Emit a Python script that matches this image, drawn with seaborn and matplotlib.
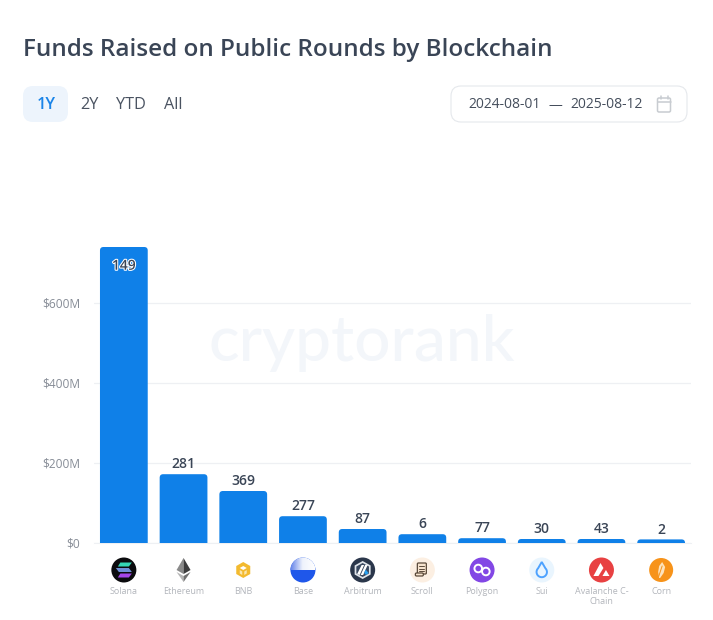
import numpy as np
import pandas as pd
import matplotlib.pyplot as plt
import matplotlib.patheffects as pe
from matplotlib.patches import Circle, FancyBboxPatch, PathPatch, Polygon
from matplotlib.path import Path
import seaborn as sns

sns.set_style("white")
plt.rcParams["font.family"] = ["Open Sans", "DejaVu Sans"]

# data
chains = ["Solana", "Ethereum", "BNB", "Base", "Arbitrum", "Scroll", "Polygon", "Sui", "Avalanche C-\nChain", "Corn"]
funds = [740, 172, 130, 67, 35, 22, 12, 10, 10, 9]
rounds = [149, 281, 369, 277, 87, 6, 77, 30, 43, 2]
y_ticks = [0, 200, 400, 600]
y_labels = ["$0", "$200M", "$400M", "$600M"]
periods = ["2Y", "YTD", "All"]

BLUE = "#0f80e8"
DARK = "#3a4556"

W, H = 713, 620
fig = plt.figure(figsize=(W / 100, H / 100), dpi=100)
ax = fig.add_axes([94 / W, 1 - 543 / H, 597 / W, 303 / H])
ax.patch.set_alpha(0)

df = pd.DataFrame({"chain": chains, "funds": funds})
sns.barplot(data=df, x="chain", y="funds", color=BLUE, saturation=1, width=0.8, ax=ax, zorder=3)
ax.set_xlim(-0.5, 9.5)
ax.set_ylim(0, 757.5)
ax.set_xlabel("")
ax.set_ylabel("")
ax.set_yticks(y_ticks, y_labels)
ax.yaxis.grid(True, color="#eef0f3", lw=0.9)
ax.set_axisbelow(True)
ax.tick_params(axis="y", length=0, pad=10, labelsize=8.6, labelcolor="#868c96")
ax.tick_params(axis="x", length=0, pad=32, labelsize=6.5, labelcolor="#b3b6bc")
for lab in ax.get_xticklabels():
    lab.set_linespacing(1.05)
sns.despine(ax=ax, left=True, right=True, top=True, bottom=False)
ax.spines["bottom"].set_color("#eef0f3")

# round the top corners of the bars
rx, ry = 3.5 / 59.7, 3.5 / 0.4
for p, n in zip(list(ax.patches), rounds):
    x0, w, h = p.get_x(), p.get_width(), p.get_height()
    x1 = x0 + w
    verts = [(x0, 0), (x0, h - ry), (x0, h), (x0 + rx, h), (x1 - rx, h), (x1, h), (x1, h - ry), (x1, 0), (x0, 0)]
    codes = [Path.MOVETO, Path.LINETO, Path.CURVE3, Path.CURVE3, Path.LINETO, Path.CURVE3, Path.CURVE3, Path.LINETO, Path.CLOSEPOLY]
    ax.add_patch(PathPatch(Path(verts, codes), fc=BLUE, ec="none", zorder=3))
    p.set_visible(False)
    cx = x0 + w / 2
    if h > 700:
        ax.annotate(str(n), (cx, h), xytext=(0, -13.5), textcoords="offset points", ha="center", va="center",
                    fontsize=10, fontweight="semibold", color=DARK, zorder=5,
                    path_effects=[pe.withStroke(linewidth=1.5, foreground="white")])
    else:
        ax.annotate(str(n), (cx, h), xytext=(0, 2), textcoords="offset points", ha="center", va="bottom",
                    fontsize=10, fontweight="semibold", color=DARK, zorder=5)

# overlay in pixel coordinates for the page furniture
ui = fig.add_axes([0, 0, 1, 1], zorder=-1)
ui.set_xlim(0, W)
ui.set_ylim(H, 0)
ui.axis("off")
ui.text(362, 343, "cryptorank", ha="center", va="center", fontsize=46, fontweight="medium", color="#f3f6fa", family="Lato")

top = fig.add_axes([0, 0, 1, 1], zorder=5)
top.set_xlim(0, W)
top.set_ylim(H, 0)
top.axis("off")
top.patch.set_alpha(0)

top.text(23, 49.5, "Funds Raised on Public Rounds by Blockchain", fontsize=17.45, fontweight="semibold", color=DARK, va="center")
top.add_patch(FancyBboxPatch((23, 86), 45, 36, boxstyle="round,pad=0,rounding_size=10", fc="#edf4fc", ec="none"))
top.text(46, 105, "1Y", fontsize=11.7, fontweight="semibold", color="#1a84e8", ha="center", va="center")
for label, x in zip(periods, [89.5, 131, 173]):
    top.text(x, 105, label, fontsize=11.7, color="#4a5361", ha="center", va="center")
top.add_patch(FancyBboxPatch((451, 86), 236, 36, boxstyle="round,pad=0,rounding_size=10", fc="white", ec="#e5e8ec", lw=0.8))
top.text(468, 105, "2024-08-01", fontsize=10, color="#454e5c", va="center")
top.text(555, 105, "—", fontsize=10, color="#454e5c", va="center", ha="center")
top.text(570, 105, "2025-08-12", fontsize=10, color="#454e5c", va="center")
# calendar icon
top.add_patch(FancyBboxPatch((657.5, 98), 13, 14, boxstyle="round,pad=0,rounding_size=1.5", fc="none", ec="#c8ccd1", lw=1.1))
top.plot([657.5, 670.5], [101.5, 101.5], color="#c8ccd1", lw=1.1)
top.plot([660.5, 660.5], [96, 99], color="#c8ccd1", lw=1.1)
top.plot([667.5, 667.5], [96, 99], color="#c8ccd1", lw=1.1)


def circle(cx, color, r=12.5, cy=570):
    c = Circle((cx, cy), r, fc=color, ec="none")
    top.add_patch(c)
    return c


def poly(cx, pts, color, cy=570):
    top.add_patch(Polygon([(cx + a, cy + b) for a, b in pts], closed=True, fc=color, ec="none"))


centers = [94 + 59.7 * (i + 0.5) for i in range(10)]

# Solana
c = centers[0]
circle(c, "#0b0b0e")
for dy, col in zip([-5.5, 0, 5.5], ["#35d6b4", "#6f8fd8", "#a545e8"]):
    poly(c, [(-6, dy + 2), (-3.5, dy - 2), (8, dy - 2), (5, dy + 2)] if dy != 0 else [(-8, dy - 2), (5, dy - 2), (8, dy + 2), (-5, dy + 2)], col)

# Ethereum
c = centers[1]
poly(c, [(0, -12), (-7, 0), (0, 4)], "#8a8a8a")
poly(c, [(0, -12), (7, 0), (0, 4)], "#3c3c3d")
poly(c, [(-7, 2), (0, 12), (0, 6)], "#b5b5b5")
poly(c, [(7, 2), (0, 12), (0, 6)], "#707070")

# BNB
c = centers[2]
poly(c, [(0, -8), (7, -4), (7, 4), (0, 8), (-7, 4), (-7, -4)], "#f3ba2f")
poly(c, [(0, -4), (3.5, -2), (0, 0), (-3.5, -2)], "white")
poly(c, [(-3.5, 0), (-1, 1.5), (-1, 5), (-3.5, 3.5)], "#fbe6ae")
poly(c, [(3.5, 0), (1, 1.5), (1, 5), (3.5, 3.5)], "#fbe6ae")

# Base
c = centers[3]
disc = circle(c, "#1f57ea")
grad = np.linspace(0, 1, 64).reshape(1, -1)
img = top.imshow(grad, extent=(c - 12.5, c + 12.5, 570, 557.5), cmap=sns.blend_palette(["#5f7fe8", "#eef2fc", "#ffffff"], as_cmap=True), aspect="auto", zorder=2)
img.set_clip_path(Circle((c, 570), 12.5, transform=top.transData))
top.set_xlim(0, W)
top.set_ylim(H, 0)

# Arbitrum
c = centers[4]
circle(c, "#2b374b")
poly(c, [(0, -9), (8, -4.5), (8, 4.5), (0, 9), (-8, 4.5), (-8, -4.5)], "#dfe4ea")
poly(c, [(0, -7), (6.3, -3.5), (6.3, 3.5), (0, 7), (-6.3, 3.5), (-6.3, -3.5)], "#3a4960")
poly(c, [(-1, -5), (1.5, -5), (-3, 5), (-5.5, 4)], "white")
poly(c, [(2.5, -5), (5, -5), (0.5, 5), (-2, 5)], "white")
poly(c, [(3, -0.5), (6, 3), (3.5, 5), (1.5, 3)], "#28a0f0")

# Scroll
c = centers[5]
circle(c, "#fcefe2")
top.add_patch(FancyBboxPatch((c - 5, 563), 9, 11, boxstyle="round,pad=0,rounding_size=1", fc="#f7e3cd", ec="#5b4a3a", lw=0.9))
for y in [566, 568.5, 571]:
    top.plot([c - 3, c + 2], [y, y], color="#5b4a3a", lw=0.7)
top.add_patch(FancyBboxPatch((c - 7, 573), 8, 3, boxstyle="round,pad=0,rounding_size=1.2", fc="#f7e3cd", ec="#5b4a3a", lw=0.9))

# Polygon
c = centers[6]
circle(c, "#8247e5")
for dx, dy in [(-3.8, -1.5), (3.8, 1.5)]:
    top.add_patch(Circle((c + dx, 570 + dy), 3.8, fc="none", ec="white", lw=1.4))

# Sui
c = centers[7]
circle(c, "#e9f5fe")
theta = np.linspace(-0.25 * np.pi, 1.25 * np.pi, 30)
drop = [(5.2 * np.cos(t), 2 + 5.2 * np.sin(t)) for t in theta] + [(0, -8)]
top.add_patch(Polygon([(c + a, 570 + b) for a, b in drop], closed=True, fc="none", ec="#4da2ff", lw=1.4))

# Avalanche
c = centers[8]
circle(c, "#e84142")
poly(c, [(-1, -7), (2, -2), (-3, 6), (-8, 6)], "white")
poly(c, [(4.5, 0), (8, 6), (1, 6)], "white")

# Corn
c = centers[9]
circle(c, "#f7931a", r=12)
poly(c, [(1, -8), (4, -3), (2.5, 3), (-1, 8), (-2, 8), (-3, 2), (-2, -4)], "#fde3bd")
top.plot([c - 3, c + 1], [578, 566], color="#f7931a", lw=0.7)

fig.savefig("out.png", dpi=100, facecolor="white")
